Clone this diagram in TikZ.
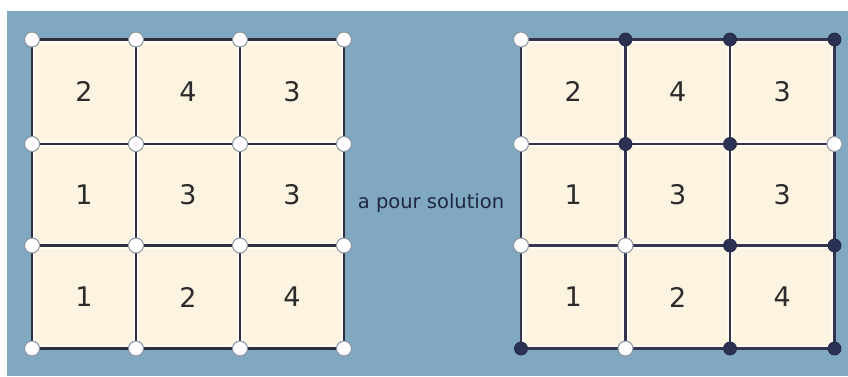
\documentclass[tikz,border=0pt]{standalone}
\usepackage{fontspec}
\setmainfont{DejaVu Sans}
\definecolor{bg}{HTML}{80A8C0}
\definecolor{cellfill}{HTML}{FDF3E1}
\definecolor{cellrim}{HTML}{FFFAF2}
\definecolor{gridline}{HTML}{2E2E3C}
\definecolor{gridlineR}{HTML}{34344E}
\definecolor{darkv}{HTML}{2A3152}
\definecolor{vring}{HTML}{8A94A4}
\definecolor{txt}{HTML}{2B2B2B}
\definecolor{captxt}{HTML}{1E2840}
\tikzset{
  cellbox/.style={rectangle, fill=cellfill, draw=cellrim, line width=2.5pt,
    minimum width=100pt, minimum height=99pt, inner sep=0pt,
    text=txt, font=\fontsize{27}{27}\selectfont},
  gridl/.style={draw=gridline, line width=2.4pt},
  gridlr/.style={draw=gridlineR, line width=2.6pt},
  wvert/.style={circle, fill=white, draw=vring, line width=1pt, minimum size=15pt, inner sep=0pt},
  dvert/.style={circle, fill=darkv, draw=darkv!85!black, line width=0.8pt, minimum size=13pt, inner sep=0pt},
  caption/.style={text=captxt, font=\fontsize{19.5}{20}\selectfont, inner sep=0pt}
}
\begin{document}
\begin{tikzpicture}[x=1pt,y=-1pt]
\useasboundingbox (0,0) rectangle (848,376);
\fill[white] (0,0) rectangle (848,376);
\fill[bg] (7,11) rectangle (848,376);
% grid points
\foreach \i in {0,...,3}{
  \foreach \j/\yy in {0/39.5,1/144,2/245.5,3/348.5}{
    \coordinate (L-\i-\j) at ({32+104*\i},\yy);
    \coordinate (R-\i-\j) at ({521+104.5*\i},\yy);
  }
}
% cells
\foreach \g/\ox/\sx in {L/32/104,R/521/104.5}{
  \foreach \v [count=\k from 0] in {2,4,3,1,3,3,1,2,4}{
    \pgfmathtruncatemacro{\ci}{mod(\k,3)}
    \pgfmathtruncatemacro{\cj}{div(\k,3)}
    \pgfmathsetmacro{\cy}{{39.5,144,245.5,348.5}[\cj]}
    \pgfmathsetmacro{\cyy}{{39.5,144,245.5,348.5}[\cj+1]}
    \node[cellbox] (\g c-\ci-\cj) at ({\ox+\sx*(\ci+0.5)},{(\cy+\cyy)/2}) {\raisebox{-3pt}{\v}};
  }
}
% grid lines
\foreach \n in {0,...,3}{
  \draw[gridl] (L-0-\n) -- (L-3-\n);
  \draw[gridl] (L-\n-0) -- (L-\n-3);
  \draw[gridlr] (R-0-\n) -- (R-3-\n);
  \draw[gridlr] (R-\n-0) -- (R-\n-3);
}
% vertices left: all white
\foreach \i in {0,...,3}{
  \foreach \j in {0,...,3}{
    \node[wvert] (Lv-\i-\j) at (L-\i-\j) {};
  }
}
% vertices right
\foreach \i/\j/\s in {0/0/wvert,1/0/dvert,2/0/dvert,3/0/dvert,
                      0/1/wvert,1/1/dvert,2/1/dvert,3/1/wvert,
                      0/2/wvert,1/2/wvert,2/2/dvert,3/2/dvert,
                      0/3/dvert,1/3/wvert,2/3/dvert,3/3/dvert}{
  \node[\s] (Rv-\i-\j) at (R-\i-\j) {};
}
\node[caption] (cap) at (431,203) {a pour solution};
\end{tikzpicture}
\end{document}
